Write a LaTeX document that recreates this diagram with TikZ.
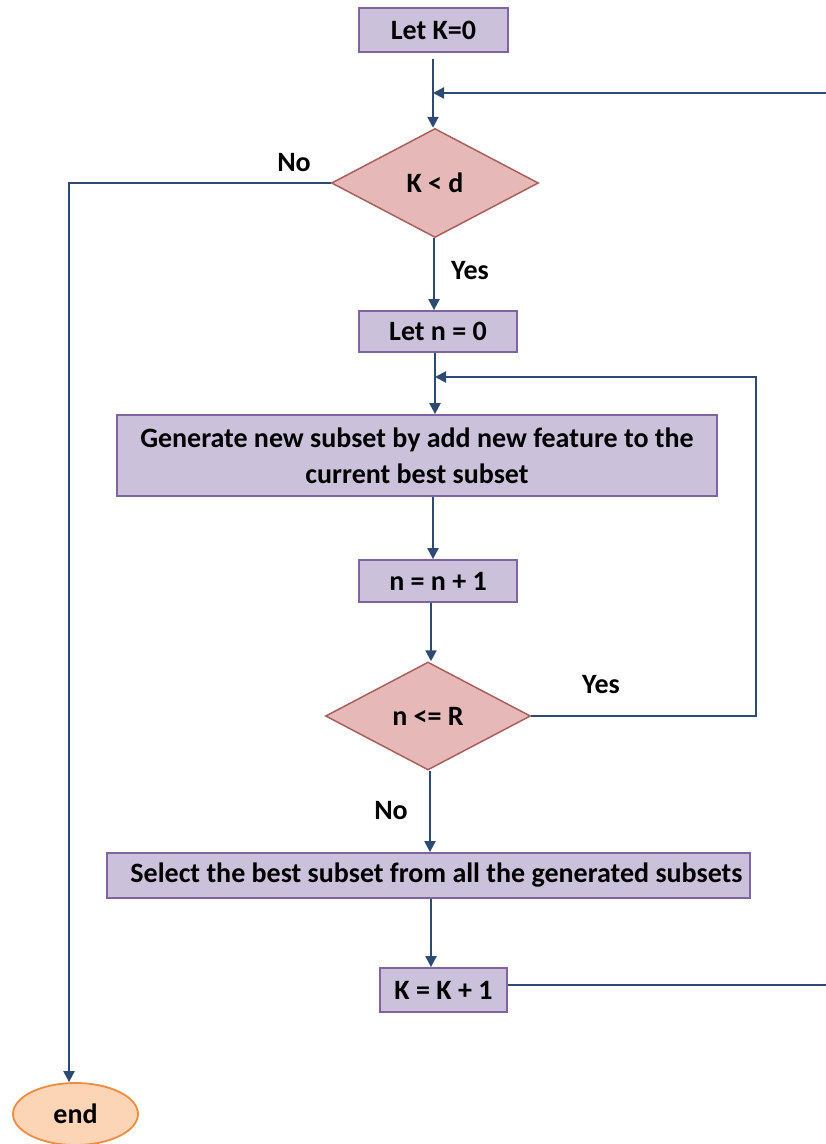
\documentclass[tikz,border=0pt]{standalone}
\usepackage{fontspec}
\setmainfont{Carlito}
\usetikzlibrary{shapes.geometric,arrows.meta}
\definecolor{boxfill}{HTML}{CCC1DA}
\definecolor{boxdraw}{HTML}{8064A2}
\definecolor{diafill}{HTML}{E6B9B8}
\definecolor{diadraw}{HTML}{A8605C}
\definecolor{endfill}{HTML}{FBD5B5}
\definecolor{enddraw}{HTML}{F08C40}
\definecolor{linecol}{HTML}{2C4A72}
\begin{document}
\begin{tikzpicture}[x=1pt,y=-1pt,
  font=\fontsize{28}{36}\selectfont\bfseries,
  procbox/.style={rectangle, draw=boxdraw, fill=boxfill, line width=1.8pt, inner sep=0pt, align=center},
  decbox/.style={diamond, draw=diadraw, fill=diafill, line width=1.5pt, inner sep=0pt},
  endbox/.style={ellipse, draw=enddraw, fill=endfill, line width=1.8pt, inner sep=0pt},
  conn/.style={draw=linecol, line width=2.2pt},
  arr/.style={conn, -{Triangle[length=11pt,width=11pt]}},
  lbl/.style={text=black, inner sep=0pt}]
\useasboundingbox (0,0) rectangle (826,1144);

% nodes
\node[procbox, minimum width=149pt, minimum height=44pt] (k0) at (433.5,30) {Let K=0};
\node[decbox, minimum width=207pt, minimum height=109pt] (kd) at (435,183) {K < d};
\node[procbox, minimum width=158pt, minimum height=41pt] (n0) at (438,331.5) {Let n = 0};
\node[procbox, minimum width=600pt, minimum height=81pt] (gen) at (417,455.5) {Generate new subset by add new feature to the\\current best subset};
\node[procbox, minimum width=158pt, minimum height=42pt] (inc) at (438,581) {n = n + 1};
\node[decbox, minimum width=205pt, minimum height=108pt] (nr) at (428,716) {n <= R};
\node[procbox, minimum width=643pt, minimum height=45pt] (sel) at (428.5,875.5) {\hspace*{16pt}Select the best subset from all the generated subsets};
\node[procbox, minimum width=127pt, minimum height=44pt] (kk) at (443.5,990) {K = K + 1};
\node[endbox, minimum width=125pt, minimum height=62pt] (end) at (75.5,1114) {end};

% labels
\node[lbl] (lno1) at (294,163) {No};
\node[lbl] (lyes1) at (470,271) {Yes};
\node[lbl] (lyes2) at (601,685) {Yes};
\node[lbl] (lno2) at (391,811) {No};

% helper coordinates
\coordinate (j1) at (433,93);
\coordinate (rt) at (829,93);
\coordinate (j2) at (435,377);
\coordinate (lp) at (756,377);
\coordinate (lx) at (69,0);

% connectors
\draw[arr, shorten <=6pt] (k0.south -| j1) -- (kd.north -| j1);
\draw[arr] (kk.east |- 0,985) -- (rt |- 0,985) -- (rt) -- (j1);
\draw[arr] (kd.west) -- (kd.west -| lx) -- (lx |- end.north);
\draw[arr] (kd.south -| 434,0) -- (n0.north -| 434,0);
\draw[arr] (n0.south -| j2) -- (gen.north -| j2);
\draw[arr] (nr.east) -- (nr.east -| lp) -- (lp) -- (j2);
\draw[arr] (gen.south -| 433,0) -- (inc.north -| 433,0);
\draw[arr] (inc.south -| 431,0) -- (nr.north -| 431,0);
\draw[arr] (nr.south -| 430,0) -- (sel.north -| 430,0);
\draw[arr] (sel.south -| 431,0) -- (kk.north -| 431,0);
\end{tikzpicture}
\end{document}
